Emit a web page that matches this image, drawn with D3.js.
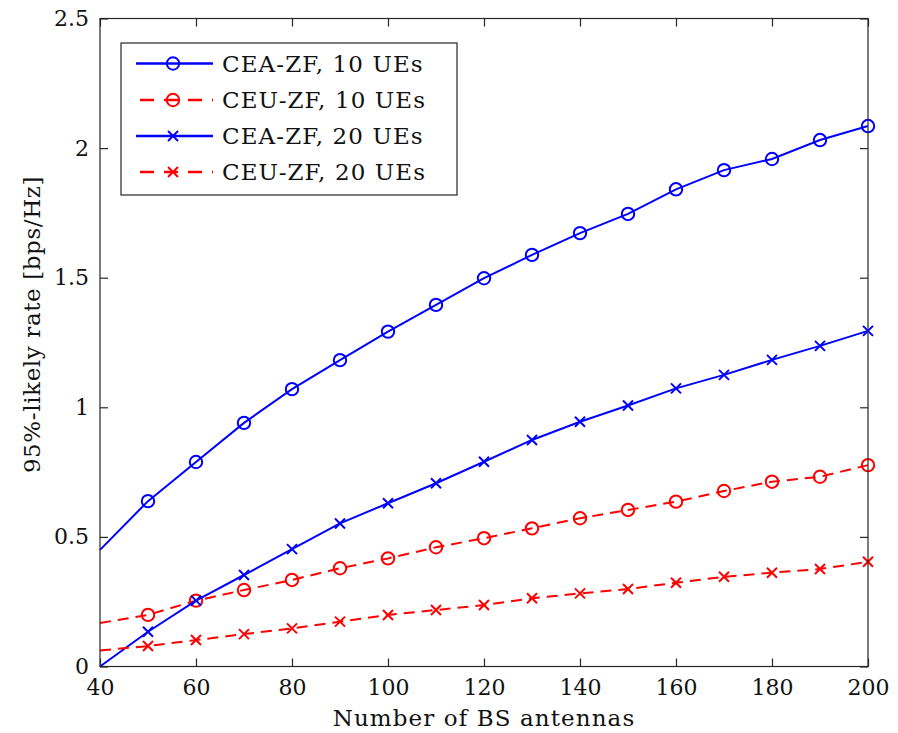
<!DOCTYPE html>
<html><head><meta charset="utf-8">
<script src="https://cdn.jsdelivr.net/npm/d3@7"></script>
<style>body{margin:0;background:#fff}svg{display:block}</style>
</head><body>
<svg id="c" width="898" height="733"></svg>
<script>
const antennas = [40,50,60,70,80,90,100,110,120,130,140,150,160,170,180,190,200];
const ceaZf10 = [0.45,0.638,0.789,0.94,1.07,1.182,1.292,1.395,1.498,1.588,1.672,1.746,1.841,1.915,1.958,2.031,2.085];
const ceuZf10 = [0.168,0.199,0.254,0.295,0.334,0.379,0.417,0.46,0.495,0.533,0.572,0.604,0.636,0.677,0.713,0.732,0.777];
const ceaZf20 = [0.0,0.134,0.254,0.353,0.453,0.552,0.63,0.707,0.79,0.874,0.944,1.007,1.073,1.125,1.183,1.237,1.295];
const ceuZf20 = [0.062,0.079,0.102,0.125,0.147,0.173,0.199,0.218,0.237,0.263,0.282,0.299,0.323,0.346,0.362,0.376,0.404];
const seriesNames = ["CEA-ZF, 10 UEs","CEU-ZF, 10 UEs","CEA-ZF, 20 UEs","CEU-ZF, 20 UEs"];
const xTicks = [40,60,80,100,120,140,160,180,200];
const yTicks = [0,0.5,1,1.5,2,2.5];

const series = [
  {name:seriesNames[0], values:ceaZf10, color:"#0000ff", dash:null, marker:"o"},
  {name:seriesNames[1], values:ceuZf10, color:"#ff0000", dash:"11,7", marker:"o"},
  {name:seriesNames[2], values:ceaZf20, color:"#0000ff", dash:null, marker:"x"},
  {name:seriesNames[3], values:ceuZf20, color:"#ff0000", dash:"11,7", marker:"x"}
];

const svg = d3.select("#c");
const L=100, R=868, T=18.5, B=666.5;
const x = d3.scaleLinear().domain([40,200]).range([L,R]);
const y = d3.scaleLinear().domain([0,2.5]).range([B,T]);
const font = "'DejaVu Serif', 'Liberation Serif', serif";
const axisColor = "#262626";

const line = d3.line().x(d=>x(d[0])).y(d=>y(d[1]));
function drawMarker(g, type, cx, cy, color){
  if(type==="o"){
    g.append("circle").attr("cx",cx).attr("cy",cy).attr("r",6.2)
      .attr("fill","none").attr("stroke",color).attr("stroke-width",2);
  } else {
    const s=5;
    g.append("path").attr("d",`M${cx-s},${cy-s}L${cx+s},${cy+s}M${cx-s},${cy+s}L${cx+s},${cy-s}`)
      .attr("stroke",color).attr("stroke-width",2).attr("fill","none");
  }
}
const plot = svg.append("g");
series.forEach(s=>{
  const pts = antennas.map((a,i)=>[a,s.values[i]]);
  plot.append("path").attr("d",line(pts)).attr("fill","none")
    .attr("stroke",s.color).attr("stroke-width",2)
    .attr("stroke-dasharray",s.dash);
  pts.slice(1).forEach(p=>drawMarker(plot,s.marker,x(p[0]),y(p[1]),s.color));
});

svg.append("rect").attr("x",L).attr("y",T).attr("width",R-L).attr("height",B-T)
  .attr("fill","none").attr("stroke",axisColor).attr("stroke-width",1.2);

const tl=8;
const xb = svg.append("g").attr("transform",`translate(0,${B})`)
  .call(d3.axisBottom(x).tickValues(xTicks).tickSize(-tl).tickPadding(13).tickFormat(d3.format("d")));
const xt = svg.append("g").attr("transform",`translate(0,${T})`)
  .call(d3.axisTop(x).tickValues(xTicks).tickSize(-tl).tickFormat(""));
const yl = svg.append("g").attr("transform",`translate(${L},0)`)
  .call(d3.axisLeft(y).tickValues(yTicks).tickSize(-tl).tickPadding(11).tickFormat(d=>String(d)));
const yr = svg.append("g").attr("transform",`translate(${R},0)`)
  .call(d3.axisRight(y).tickValues(yTicks).tickSize(-tl).tickFormat(""));
[xb,xt,yl,yr].forEach(g=>{
  g.select(".domain").remove();
  g.selectAll(".tick line").attr("stroke",axisColor).attr("stroke-width",1.2);
  g.selectAll(".tick text").attr("font-family",font).attr("font-size",22).attr("fill","#111");
});

svg.append("text").attr("x",(L+R)/2).attr("y",726).attr("text-anchor","middle")
  .attr("font-family",font).attr("font-size",23).attr("letter-spacing",1.1).attr("fill","#111").text("Number of BS antennas");
svg.append("text").attr("transform",`translate(40,${(T+B)/2-18}) rotate(-90)`).attr("text-anchor","middle")
  .attr("font-family",font).attr("font-size",23).attr("letter-spacing",0.6).attr("fill","#111").text("95%-likely rate [bps/Hz]");

const lg = svg.append("g");
lg.append("rect").attr("x",121).attr("y",43).attr("width",336).attr("height",152)
  .attr("fill","#fff").attr("stroke",axisColor).attr("stroke-width",1.2);
const ly = [63.5,100,136,172];
series.forEach((s,i)=>{
  lg.append("line").attr("x1",136).attr("x2",213).attr("y1",ly[i]).attr("y2",ly[i])
    .attr("stroke",s.color).attr("stroke-width",2.5).attr("stroke-dasharray",s.dash?"14,10":null)
    .attr("stroke-dashoffset",s.dash?-4:0);
  drawMarker(lg,s.marker,173,ly[i],s.color);
  lg.append("text").attr("x",222).attr("y",ly[i]+8).attr("font-family",font).attr("font-size",23)
    .attr("letter-spacing",1.1).attr("fill","#111").text(s.name);
});
</script>
</body></html>
